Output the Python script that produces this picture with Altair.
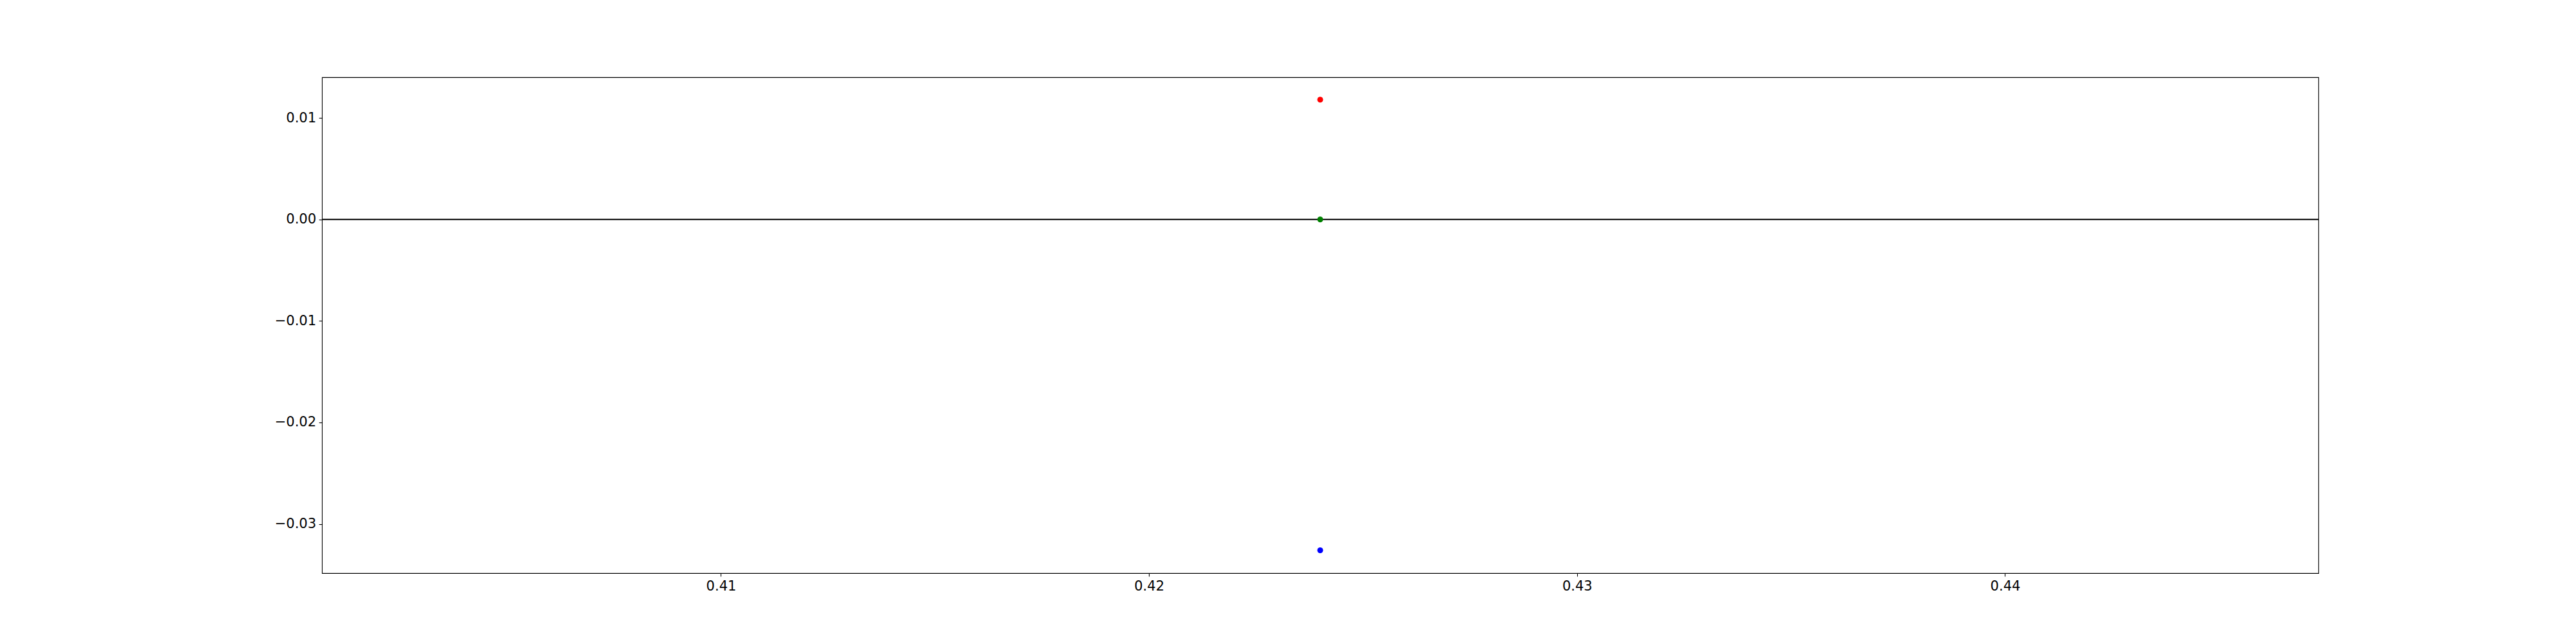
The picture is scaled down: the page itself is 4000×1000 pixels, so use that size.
import altair as alt
import pandas as pd

# three residual points at one x position, plus a zero line
x_vals = [0.424, 0.424, 0.424]
y_vals = [0.0118, 0.0, -0.0326]
point_colors = ["#ff0000", "#008000", "#0000ff"]
names = ["upper", "zero", "lower"]

x_ticks = [0.41, 0.42, 0.43, 0.44]
y_ticks = [-0.03, -0.02, -0.01, 0.0, 0.01]
x_domain = [0.40068, 0.44732]
y_domain = [-0.03485, 0.0140]

df = pd.DataFrame({"x": x_vals, "y": y_vals, "name": names, "color": point_colors})
zero_df = pd.DataFrame({"y": [0.0]})

minus = "replace(datum.label, '-', '\u2212')"

xscale = alt.Scale(domain=x_domain, nice=False, zero=False)
yscale = alt.Scale(domain=y_domain, nice=False, zero=False)

xaxis = alt.Axis(values=x_ticks, format=".2f", title=None, grid=False,
                 domain=False, tickSize=4.9, tickWidth=1.1, tickColor="black",
                 labelPadding=4.5, labelFontSize=21, labelColor="black",
                 labelFont="DejaVu Sans", labelExpr=minus)
yaxis = alt.Axis(values=y_ticks, format=".2f", title=None, grid=False,
                 domain=False, tickSize=4.9, tickWidth=1.1, tickColor="black",
                 labelPadding=4.5, labelFontSize=21, labelColor="black",
                 labelFont="DejaVu Sans", labelExpr=minus)

zero_line = alt.Chart(zero_df).mark_rule(color="black", strokeWidth=2.1).encode(
    y=alt.Y("y:Q", scale=yscale, axis=yaxis)
)

points = alt.Chart(df).mark_point(filled=True, size=82, opacity=1).encode(
    x=alt.X("x:Q", scale=xscale, axis=xaxis),
    y=alt.Y("y:Q", scale=yscale, axis=yaxis),
    color=alt.Color("color:N", scale=None, legend=None),
)

chart = (zero_line + points).properties(
    width=3100, height=770,
    autosize=alt.AutoSizeParams(type="none"),
    padding={"left": 492, "top": 112, "right": 392, "bottom": 102},
    background="white",
).configure_view(stroke="black", strokeWidth=1.1)

chart.save("out.html", embed_options={"renderer": "svg", "actions": False})
